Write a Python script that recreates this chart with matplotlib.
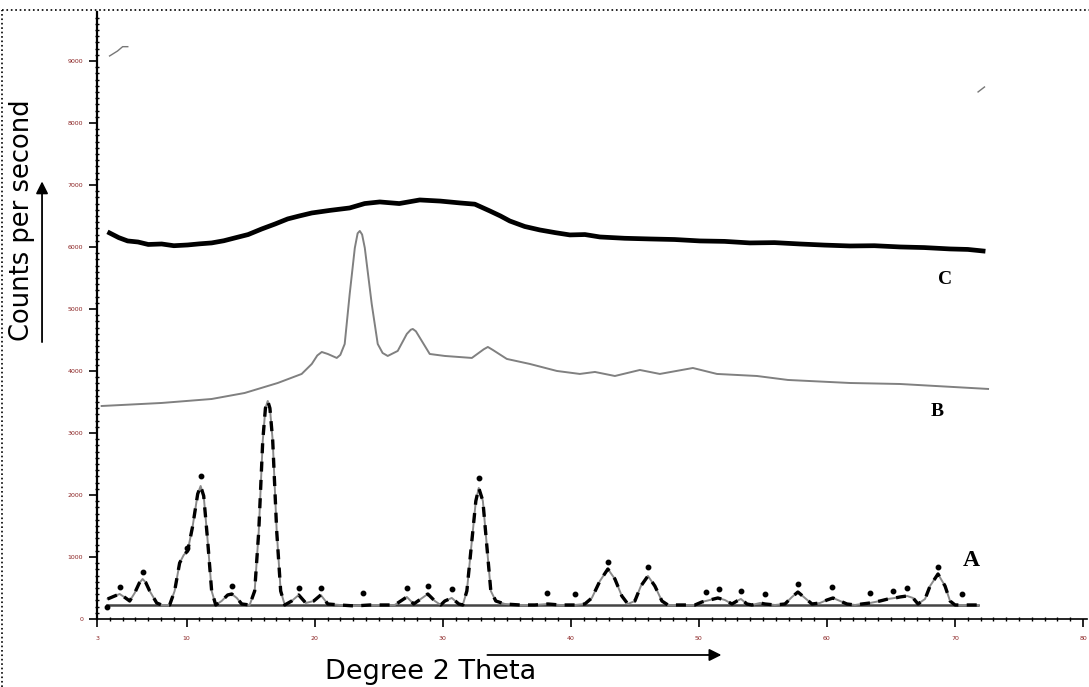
import numpy as np
import matplotlib.pyplot as plt
from matplotlib.lines import Line2D
from matplotlib.ticker import MultipleLocator, FixedLocator

# curve C (amorphous, noisy)
c_x = [3.98, 4.7, 5.39, 6.2, 7.0, 8.05, 9.0, 10.08, 11.0, 11.95, 12.9, 13.75, 14.8,
       15.86, 16.9, 17.89, 18.8, 19.77, 21.2, 22.73, 23.9, 25.08, 26.6, 28.2, 29.8,
       31.33, 32.5, 33.67, 34.5, 35.23, 36.4, 37.58, 38.8, 39.92, 41.1, 42.27, 44.2,
       46.17, 48.1, 50.08, 52.0, 53.98, 55.9, 57.89, 59.8, 61.8, 63.7, 65.7, 67.6,
       69.6, 71.0, 72.19]
c_y = [6226, 6150, 6097, 6080, 6040, 6048, 6020, 6032, 6050, 6065, 6100, 6145, 6200,
       6290, 6370, 6452, 6500, 6548, 6590, 6629, 6700, 6726, 6700, 6758, 6740,
       6710, 6690, 6581, 6500, 6419, 6330, 6274, 6230, 6194, 6200, 6161, 6140,
       6129, 6120, 6097, 6090, 6065, 6070, 6048, 6030, 6016, 6020, 6000, 5990,
       5968, 5960, 5935]

# curve B
b_x = [3.36, 8.05, 11.95, 14.53, 17.11, 18.98, 19.77, 20.2, 20.55, 21.02, 21.72,
       22.0, 22.34, 22.73, 23.13, 23.35, 23.52, 23.7, 23.91, 24.45, 24.92, 25.30,
       25.70, 26.48, 27.19, 27.5, 27.66, 27.9, 28.36, 28.98, 30.16, 32.27, 33.2,
       33.52, 33.9, 35.0, 36.8, 38.91, 40.7, 41.88, 43.44, 45.39, 46.95, 49.53,
       51.41, 54.53, 56.95, 61.8, 65.7, 72.58]
b_y = [3435, 3484, 3548, 3645, 3806, 3952, 4113, 4250, 4306, 4274, 4210,
       4260, 4435, 5242, 5984, 6220, 6258, 6200, 5984, 5081, 4435, 4290,
       4242, 4323, 4597, 4665, 4677, 4640, 4484, 4274, 4242, 4210, 4350,
       4387, 4340, 4194, 4113, 4000, 3952, 3984, 3919, 4016, 3952, 4048,
       3952, 3919, 3855, 3806, 3790, 3710]

# curve A (crystalline)
a_x = [3.83, 4.38, 4.77, 5.23, 5.55, 5.94, 6.3, 6.56, 6.8, 7.11, 7.66, 8.05, 8.67,
       9.06, 9.45, 9.77, 10.08, 10.47, 10.86, 11.09, 11.33, 11.64, 11.95, 12.27,
       12.73, 13.20, 13.52, 13.91, 14.30, 14.92, 15.31, 15.63, 15.94, 16.15, 16.33,
       16.5, 16.72, 17.03, 17.34, 17.66, 18.20, 18.75, 19.30, 19.92, 20.47, 21.02,
       21.95, 23.13, 24.30, 25.08, 26.25, 26.72, 27.19, 27.73, 28.28, 28.83, 29.38,
       29.84, 30.16, 30.70, 31.25, 31.56, 31.88, 32.27, 32.58, 32.81, 33.13, 33.44,
       33.75, 34.14, 34.84, 36.02, 37.19, 38.20, 39.14, 40.31, 41.09, 41.64, 42.27,
       42.89, 43.44, 43.98, 44.45, 45.0, 45.47, 46.02, 46.56, 47.11, 47.58, 48.52,
       49.69, 50.23, 50.86, 51.48, 52.03, 52.58, 52.97, 53.28, 53.75, 54.14, 54.77,
       55.16, 55.94, 56.72, 57.27, 57.73, 58.28, 58.83, 59.45, 60.0, 60.47, 61.02,
       61.56, 62.19, 62.73, 63.36, 64.14, 64.77, 65.31, 65.70, 66.25, 66.72, 67.11,
       67.66, 68.05, 68.67, 69.22, 69.61, 70.0, 71.80]
a_y = [323, 371, 403, 339, 290, 419, 580, 645, 590, 452, 258, 226, 226,
       452, 903, 1032, 1097, 1500, 2016, 2145, 1984, 1258, 452, 226,
       290, 387, 403, 339, 242, 226, 452, 1419, 2871, 3400, 3516,
       3400, 2871, 1419, 452, 226, 290, 387, 258, 290, 387, 242,
       226, 210, 226, 226, 226, 290, 355, 242, 323, 403, 290,
       226, 290, 339, 242, 226, 452, 1258, 1903, 2113, 1903, 1177,
       452, 290, 242, 226, 226, 242, 226, 226, 242, 339, 613,
       806, 645, 371, 242, 290, 532, 694, 532, 290, 226, 226,
       226, 274, 306, 339, 306, 242, 290, 323, 242, 226, 258,
       242, 226, 242, 355, 435, 339, 242, 258, 306, 339, 290,
       242, 226, 242, 258, 290, 323, 339, 355, 371, 339, 242,
       323, 532, 726, 532, 290, 226, 226]

# peak markers on A
dot_x = [3.75, 4.77, 6.56, 10.0, 11.09, 13.52, 18.75, 20.47, 23.75, 27.19, 28.83,
         30.70, 32.81, 38.12, 40.31, 42.89, 46.02, 50.55, 51.56, 53.28, 55.16,
         57.73, 60.39, 63.36, 65.16, 66.25, 68.67, 70.55]
dot_y = [194, 516, 758, 1145, 2306, 532, 500, 500, 419, 500, 532,
         484, 2274, 419, 403, 919, 839, 435, 484, 452, 403,
         565, 516, 419, 452, 500, 839, 403]

x_ticks = [3, 10, 20, 30, 40, 50, 60, 70, 80]
y_ticks = [0, 1000, 2000, 3000, 4000, 5000, 6000, 7000, 8000, 9000]

fig = plt.figure(figsize=(10.89, 6.87), dpi=100)
ax = fig.add_axes([0.0891, 0.099, 0.909, 0.8836])

ax.plot(c_x, c_y, color='black', lw=3.4, solid_joinstyle='round')
ax.plot(b_x, b_y, color='#808080', lw=1.4, solid_joinstyle='round')
ax.plot([3.8, 71.8], [226, 226], color='#444444', lw=1.8)
ax.plot(a_x, a_y, color='#8a8a8a', lw=1.4, solid_joinstyle='round')
ax.plot(a_x, a_y, color='black', lw=2.4, dashes=(3, 2.5))
ax.plot(dot_x, dot_y, 'o', color='black', ms=3.2)

# scan artefacts
ax.plot([3.98, 4.6, 5.0, 5.4], [9080, 9160, 9230, 9230], color='#777777', lw=1)
ax.plot([71.8, 72.3], [8500, 8580], color='#777777', lw=1)

ax.text(69.2, 5480, 'C', fontsize=14, fontweight='bold', family='Liberation Serif',
        ha='center', va='center')
ax.text(68.6, 3350, 'B', fontsize=14, fontweight='bold', family='Liberation Serif',
        ha='center', va='center')
ax.text(71.3, 940, 'A', fontsize=17, fontweight='bold', family='Liberation Serif',
        ha='center', va='center')

ax.set_xlim(3, 80.3)
ax.set_ylim(0, 9790)
for s in ['top', 'right']:
    ax.spines[s].set_visible(False)
ax.spines['left'].set_linewidth(1.6)
ax.spines['bottom'].set_linewidth(1.2)

ax.xaxis.set_major_locator(FixedLocator(x_ticks))
ax.xaxis.set_minor_locator(MultipleLocator(1))
ax.yaxis.set_major_locator(FixedLocator(y_ticks))
ax.yaxis.set_minor_locator(MultipleLocator(100))
ax.set_xticklabels([str(t) for t in x_ticks])
ax.set_yticklabels([str(t) for t in y_ticks])
ax.tick_params(axis='both', which='major', labelsize=4.5, labelcolor='#8b2323',
               length=6, width=1.2, direction='out')
ax.tick_params(axis='x', which='major', pad=6)
ax.tick_params(axis='y', which='major', pad=4)
ax.tick_params(axis='both', which='minor', length=3, width=1, direction='inout')

fig.text(0.0202, 0.68, 'Counts per second', rotation=90, fontsize=18.5,
         ha='center', va='center')
fig.text(0.395, 0.022, 'Degree 2 Theta', fontsize=19.5, ha='center', va='center')

fig.add_artist(plt.Annotation('', xy=(0.0386, 0.74), xytext=(0.0386, 0.498),
                              xycoords='figure fraction', textcoords='figure fraction',
                              arrowprops=dict(arrowstyle='-|>', color='black', lw=1.3,
                                              mutation_scale=18)))
fig.add_artist(plt.Annotation('', xy=(0.665, 0.0466), xytext=(0.445, 0.0466),
                              xycoords='figure fraction', textcoords='figure fraction',
                              arrowprops=dict(arrowstyle='-|>', color='black', lw=1.3,
                                              mutation_scale=18)))

# dotted frame of the scan
fig.add_artist(Line2D([0.002, 1.0], [0.9854, 0.9854], transform=fig.transFigure,
                      color='black', lw=1.2, ls=':'))
fig.add_artist(Line2D([0.002, 0.002], [0.0, 0.9854], transform=fig.transFigure,
                      color='black', lw=1.2, ls=':'))

fig.savefig('out.png', dpi=100)
